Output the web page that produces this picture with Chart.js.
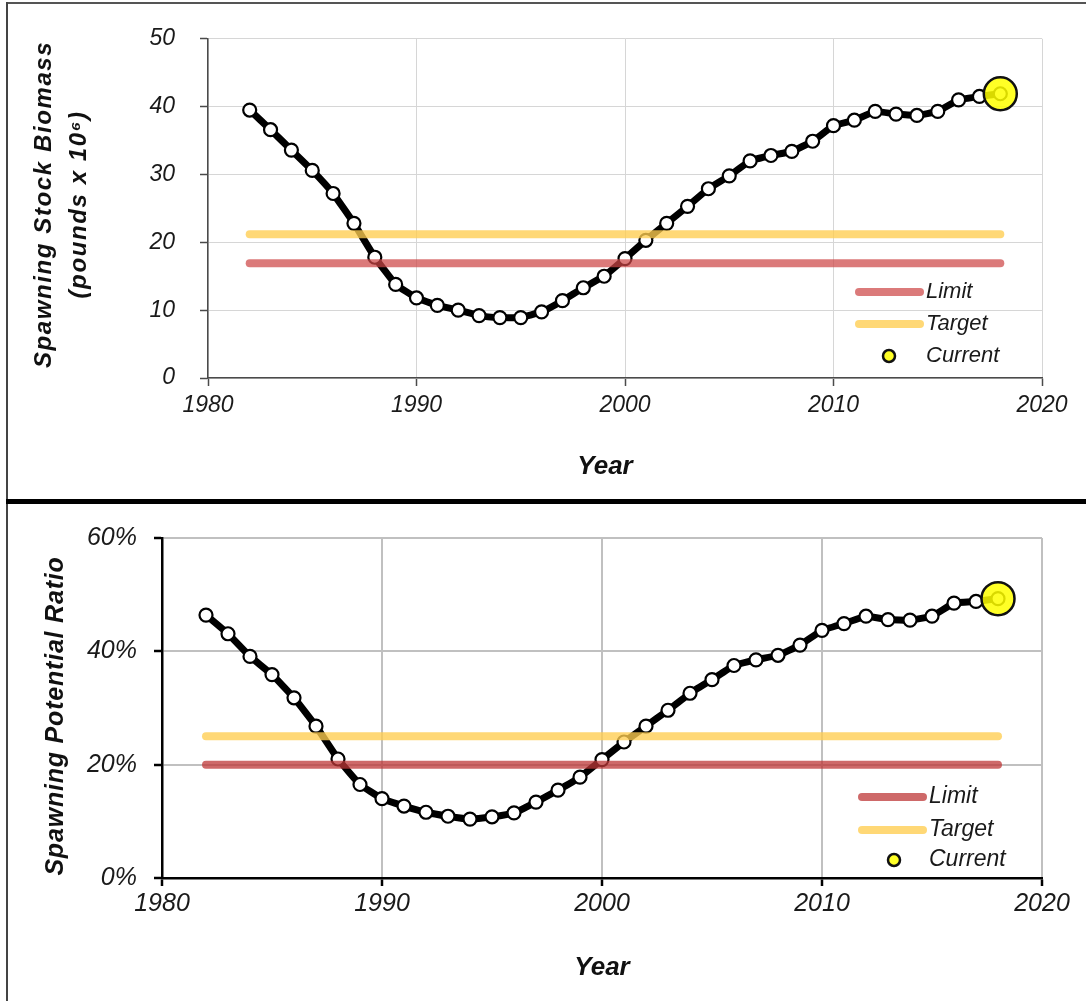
<!DOCTYPE html>
<html>
<head>
<meta charset="utf-8">
<script src="https://cdn.jsdelivr.net/npm/chart.js@4.4.1/dist/chart.umd.min.js"></script>
<style>
html,body{margin:0;padding:0;background:#fff;}
body{width:1086px;height:1001px;position:relative;overflow:hidden;}
.panel{position:absolute;left:0;width:1086px;}
#p1{top:0;height:500px;}
#p2{top:504px;height:497px;}
.frame-top{position:absolute;left:6px;top:2px;width:1080px;height:2px;background:#555;}
.frame-left{position:absolute;left:6px;top:2px;width:2px;height:999px;background:#444;}
.divider{position:absolute;left:6px;top:499px;width:1080px;height:5px;background:#000;}
</style>
</head>
<body>
<div class="panel" id="p1"><canvas id="c1" width="1086" height="500"></canvas></div>
<div class="panel" id="p2"><canvas id="c2" width="1086" height="497"></canvas></div>
<div class="frame-top"></div>
<div class="frame-left"></div>
<div class="divider"></div>
<script>
// ---------- data ----------
const years = [1982,1983,1984,1985,1986,1987,1988,1989,1990,1991,1992,1993,1994,1995,1996,1997,1998,1999,2000,2001,2002,2003,2004,2005,2006,2007,2008,2009,2010,2011,2012,2013,2014,2015,2016,2017,2018];
const ssbValues = [39.5,36.6,33.6,30.6,27.2,22.8,17.8,13.8,11.8,10.7,10.0,9.2,8.9,8.9,9.75,11.4,13.3,15.0,17.6,20.3,22.8,25.3,27.9,29.8,32.0,32.8,33.4,34.9,37.2,38.0,39.3,38.9,38.7,39.3,41.0,41.5,41.9];
const sprValues = [46.4,43.1,39.1,35.9,31.8,26.8,21.0,16.5,14.0,12.7,11.6,10.9,10.4,10.8,11.5,13.4,15.5,17.8,20.9,24.0,26.8,29.6,32.6,35.0,37.5,38.5,39.3,41.1,43.7,44.9,46.2,45.6,45.5,46.2,48.5,48.8,49.3];
const refYears = [1982, 2018];
const ssbLimit = 16.9;
const ssbTarget = 21.2;
const sprLimit = 20;
const sprTarget = 25;
const currentYear = 2018;
const xTicks = [1980, 1990, 2000, 2010, 2020];
const xTickLabels = ['1980', '1990', '2000', '2010', '2020'];
const ssbTicks = [0, 10, 20, 30, 40, 50];
const ssbTickLabels = ['0', '10', '20', '30', '40', '50'];
const sprTicks = [0, 20, 40, 60];
const sprTickLabels = ['0%', '20%', '40%', '60%'];
const legendLabels = ['Limit', 'Target', 'Current'];
const ssbTitle = ['Spawning Stock Biomass', '(pounds x 10\u2076)'];
const sprTitle = 'Spawning Potential Ratio';
const xTitle = 'Year';

// ---------- helpers ----------
const FAM = "'Liberation Sans', Arial, Helvetica, sans-serif";

const cornerLegend = {
  id: 'cornerLegend',
  afterDraw(chart, args, o) {
    if (!o || !o.items) return;
    const ctx = chart.ctx, a = chart.chartArea;
    ctx.save();
    ctx.font = 'italic ' + o.fontSize + 'px ' + FAM;
    ctx.textBaseline = 'middle';
    ctx.textAlign = 'left';
    o.items.forEach((idx, i) => {
      const ds = chart.data.datasets[idx];
      const y = a.bottom - o.rows[i];
      if (ds.showLine !== false) {
        ctx.strokeStyle = ds.borderColor;
        ctx.lineWidth = ds.borderWidth;
        ctx.lineCap = 'round';
        ctx.beginPath();
        ctx.moveTo(a.right - o.x0, y);
        ctx.lineTo(a.right - o.x1, y);
        ctx.stroke();
      } else {
        ctx.beginPath();
        ctx.arc(a.right - o.mx, y, o.mr, 0, Math.PI * 2);
        ctx.fillStyle = ds.pointBackgroundColor;
        ctx.fill();
        ctx.lineWidth = 2.5;
        ctx.strokeStyle = ds.pointBorderColor;
        ctx.stroke();
      }
      ctx.fillStyle = '#1a1a1a';
      ctx.fillText(ds.label, a.right - o.tx, y);
    });
    ctx.restore();
  }
};

const titleTweak = {
  id: 'titleTweak',
  beforeDraw(chart, args, o) {
    if (!o || !o.scales) return;
    Object.keys(o.scales).forEach(id => {
      const s = chart.scales[id];
      if (!s || s.__tw) return;
      const t = o.scales[id];
      const orig = s.drawTitle.bind(s);
      s.drawTitle = function () {
        const c = chart.ctx;
        c.save();
        if (t.spacing) c.letterSpacing = t.spacing + 'px';
        c.translate(t.dx || 0, t.dy || 0);
        orig();
        c.restore();
      };
      s.__tw = true;
    });
  }
};

function pts(xs, ys) { return xs.map((x, i) => ({x: x, y: ys[i]})); }
function flat(xs, v) { return xs.map(x => ({x: x, y: v})); }

function makeChart(canvasId, p) {
  const curIdx = years.indexOf(currentYear);
  return new Chart(document.getElementById(canvasId), {
    type: 'line',
    data: {
      datasets: [
        { label: legendLabels[2], data: [{x: currentYear, y: p.values[curIdx]}], showLine: false,
          pointRadius: 16.5, pointHoverRadius: 16.5, pointBorderWidth: 2.5,
          pointBackgroundColor: 'rgba(255,255,0,0.85)', pointBorderColor: '#111',
          borderColor: '#111', backgroundColor: 'rgba(255,255,0,0.85)', order: 0, clip: false },
        { label: legendLabels[1], data: flat(refYears, p.target), borderColor: p.targetColor, borderWidth: 8,
          borderCapStyle: 'round', pointRadius: 0, order: 1 },
        { label: legendLabels[0], data: flat(refYears, p.limit), borderColor: p.limitColor, borderWidth: 8,
          borderCapStyle: 'round', pointRadius: 0, order: 1 },
        { label: 'Series', data: pts(years, p.values), borderColor: '#000', borderWidth: 7, tension: 0.1,
          pointRadius: 6.5, pointHoverRadius: 6.5, pointBorderWidth: 2.2, pointBackgroundColor: '#fff',
          pointBorderColor: '#000', order: 2, clip: false }
      ]
    },
    options: {
      responsive: false,
      animation: false,
      events: [],
      layout: { padding: { left: 0, top: p.padTop, right: 44, bottom: 0 } },
      plugins: {
        legend: { display: false },
        tooltip: { enabled: false },
        cornerLegend: p.legend,
        titleTweak: { scales: p.tweaks }
      },
      scales: {
        x: {
          type: 'linear', min: 1980, max: 2020,
          afterFit: s => { s.height = p.xHeight; },
          afterBuildTicks: s => { s.ticks = xTicks.map(v => ({value: v})); },
          grid: { color: p.gridColor, lineWidth: p.gridWidth, tickColor: p.axisColor, tickWidth: p.axisWidth, tickLength: 8, drawTicks: true },
          border: { color: p.axisColor, width: p.axisWidth },
          ticks: { padding: p.xPad, color: '#1a1a1a', maxRotation: 0,
                   font: { family: FAM, size: p.tickSize, style: 'italic' },
                   callback: v => xTickLabels[xTicks.indexOf(v)] },
          title: { display: true, text: xTitle, color: '#111',
                   font: { family: FAM, size: 26, style: 'italic', weight: 'bold', lineHeight: 1.2 },
                   padding: { top: 0, bottom: 18 } }
        },
        y: {
          type: 'linear', min: p.yTicks[0], max: p.yTicks[p.yTicks.length - 1],
          afterFit: s => { s.width = p.yWidth; },
          afterBuildTicks: s => { s.ticks = p.yTicks.map(v => ({value: v})); },
          grid: { color: p.gridColor, lineWidth: p.gridWidth, tickColor: p.axisColor, tickWidth: p.axisWidth, tickLength: 8 },
          border: { color: p.axisColor, width: p.axisWidth },
          ticks: { padding: p.yPad, color: '#1a1a1a',
                   font: { family: FAM, size: p.tickSize, style: 'italic' },
                   callback: v => p.yLabels[p.yTicks.indexOf(v)] },
          title: { display: true, text: p.yTitle, color: '#111',
                   font: { family: FAM, size: p.yTitleSize, style: 'italic', weight: 'bold', lineHeight: p.yTitleLH },
                   padding: { top: p.yTitlePad, bottom: 0 } }
        }
      }
    },
    plugins: [cornerLegend, titleTweak]
  });
}

makeChart('c1', {
  values: ssbValues, limit: ssbLimit, target: ssbTarget,
  limitColor: 'rgba(205,70,70,0.72)', targetColor: 'rgba(255,205,80,0.78)',
  padTop: 38, xHeight: 122, yWidth: 208, xPad: 6, yPad: 25, tickSize: 23,
  gridColor: '#d6d6d6', gridWidth: 1, axisColor: '#4a4a4a', axisWidth: 1.5,
  yTicks: ssbTicks, yLabels: ssbTickLabels, yTitle: ssbTitle, yTitleSize: 24, yTitleLH: 1.45, yTitlePad: 27,
  tweaks: { y: { spacing: 1.6, dy: -4 }, x: { dx: -20 } },
  legend: { items: [2, 1, 0], rows: [86, 54, 22], x0: 183, x1: 122, tx: 116, mx: 153, mr: 6, fontSize: 22 }
});

makeChart('c2', {
  values: sprValues, limit: sprLimit, target: sprTarget,
  limitColor: 'rgba(190,55,55,0.75)', targetColor: 'rgba(255,205,80,0.78)',
  padTop: 34, xHeight: 123, yWidth: 162, xPad: 3, yPad: 17, tickSize: 25,
  gridColor: '#c0c0c0', gridWidth: 2, axisColor: '#000', axisWidth: 2.5,
  yTicks: sprTicks, yLabels: sprTickLabels, yTitle: sprTitle, yTitleSize: 25, yTitleLH: 1.2, yTitlePad: 41,
  tweaks: { y: { spacing: 0.8, dy: 8 } },
  legend: { items: [2, 1, 0], rows: [81, 48, 18], x0: 180, x1: 119, tx: 113, mx: 148, mr: 6, fontSize: 23 }
});
</script>
</body>
</html>
